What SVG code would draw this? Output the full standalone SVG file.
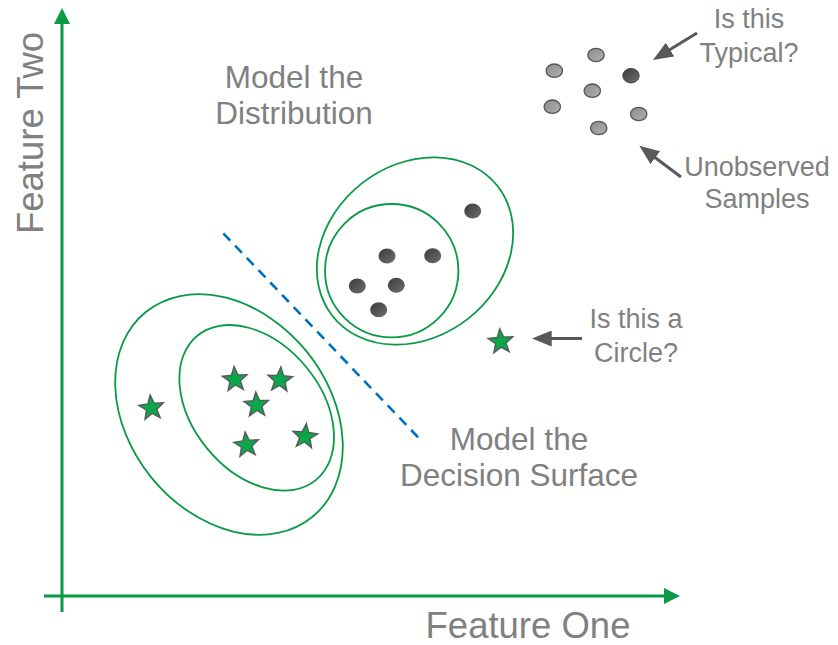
<svg xmlns="http://www.w3.org/2000/svg" width="838" height="645" viewBox="0 0 838 645">
<style>
.lbl{font-family:"Liberation Sans",Arial,sans-serif;fill:#808080;text-anchor:middle}
.big{font-size:36.5px}
.mid{font-size:31.5px}
.sm{font-size:27px}
.axis{stroke:#0a9a45;stroke-width:3;fill:none}
.contour{stroke:#0a9a45;stroke-width:1.8;fill:none}
.star{fill:#0aa64a;stroke:#5a5a5a;stroke-width:1.4;stroke-linejoin:miter}
.dark{fill:url(#dk)}
.grey{fill:url(#gy);stroke:#555;stroke-width:1.3}
.ptr{stroke:#595959;stroke-width:3;fill:none;marker-end:url(#ah)}
</style>
<defs>
<linearGradient id="dk" x1="0" y1="0" x2="1" y2="1"><stop offset="0" stop-color="#3a3a3a"/><stop offset="1" stop-color="#707070"/></linearGradient>
<linearGradient id="gy" x1="0" y1="0" x2="1" y2="1"><stop offset="0" stop-color="#8c8c8c"/><stop offset="1" stop-color="#b0b0b0"/></linearGradient>
<marker id="ah" viewBox="0 0 20 16" markerWidth="20" markerHeight="16" refX="12" refY="8" orient="auto" markerUnits="userSpaceOnUse"><path d="M0,0 L20,8 L0,16 Z" fill="#595959"/></marker>
<polygon id="st" points="0,-13 3.23,-4.45 12.36,-4.02 5.23,1.7 7.64,10.52 0,5.5 -7.64,10.52 -5.23,1.7 -12.36,-4.02 -3.23,-4.45"/>
</defs>

<g id="axes">
<line class="axis" x1="62" y1="612" x2="62" y2="22"/>
<polygon points="62,8 54,24 70,24" fill="#0a9a45"/>
<line class="axis" x1="44" y1="596" x2="666" y2="596"/>
<polygon points="680,596 664,588 664,604" fill="#0a9a45"/>
</g>

<g id="label-feature-two"><text class="lbl big" transform="translate(43,133) rotate(-90)">Feature Two</text></g>
<g id="label-feature-one"><text class="lbl big" x="528" y="638">Feature One</text></g>

<g id="label-model-distribution"><text class="lbl mid" x="294" y="88">Model the</text><text class="lbl mid" x="294" y="124">Distribution</text></g>
<g id="label-model-decision"><text class="lbl mid" x="519" y="450">Model the</text><text class="lbl mid" x="519" y="486">Decision Surface</text></g>
<g id="label-typical"><text class="lbl sm" x="749" y="28">Is this</text><text class="lbl sm" x="749" y="62">Typical?</text></g>
<g id="label-unobserved"><text class="lbl sm" x="757" y="176">Unobserved</text><text class="lbl sm" x="757" y="208">Samples</text></g>
<g id="label-circle"><text class="lbl sm" x="636" y="328">Is this a</text><text class="lbl sm" x="636" y="362">Circle?</text></g>

<g id="star-cluster">
<ellipse class="contour" cx="229" cy="414.5" rx="132" ry="100" transform="rotate(50.9 229 414.5)"/>
<ellipse class="contour" cx="256.7" cy="407.8" rx="93.4" ry="64.1" transform="rotate(50.5 256.7 407.8)"/>
<use href="#st" class="star" transform="translate(151.5,408) rotate(-6)"/>
<use href="#st" class="star" transform="translate(235,379.5) rotate(-4)"/>
<use href="#st" class="star" transform="translate(280,380) rotate(4)"/>
<use href="#st" class="star" transform="translate(256.5,405) rotate(-3)"/>
<use href="#st" class="star" transform="translate(246.5,445) rotate(-6)"/>
<use href="#st" class="star" transform="translate(305,436.5) rotate(6)"/>
</g>

<g id="circle-cluster">
<ellipse class="contour" cx="415" cy="251" rx="105" ry="86" transform="rotate(-38.2 415 251)"/>
<circle class="contour" cx="391.7" cy="270.7" r="66.7"/>
<ellipse class="dark" cx="472.7" cy="211" rx="8.5" ry="7.5"/>
<ellipse class="dark" cx="387" cy="256" rx="8.5" ry="7.5"/>
<ellipse class="dark" cx="432.7" cy="255.7" rx="8.5" ry="7.5"/>
<ellipse class="dark" cx="357.3" cy="286" rx="8.5" ry="7.5"/>
<ellipse class="dark" cx="396.3" cy="285.3" rx="8.5" ry="7.5"/>
<ellipse class="dark" cx="378.7" cy="309.7" rx="8.5" ry="7.5"/>
</g>

<g id="decision-surface"><line x1="223.3" y1="233.3" x2="422.3" y2="441.7" stroke="#0070c0" stroke-width="2.6" stroke-dasharray="10 7"/></g>

<g id="unobserved-samples">
<ellipse class="grey" cx="596" cy="55" rx="8.2" ry="6.7"/>
<ellipse class="grey" cx="554.3" cy="70.7" rx="8.2" ry="6.7"/>
<ellipse class="grey" cx="592.3" cy="90.7" rx="8.2" ry="6.7"/>
<ellipse class="grey" cx="552.3" cy="106.7" rx="8.2" ry="6.7"/>
<ellipse class="grey" cx="638.7" cy="114" rx="8.2" ry="6.7"/>
<ellipse class="grey" cx="598.7" cy="128" rx="8.2" ry="6.7"/>
</g>
<g id="typical-sample"><ellipse class="dark" cx="631" cy="75.7" rx="8.2" ry="7.2" stroke="#444" stroke-width="1"/></g>
<g id="query-star"><use href="#st" class="star" transform="translate(500.7,341.7) rotate(-4)"/></g>

<g id="connectors">
<path class="ptr" d="M697,33 L659.8,55.8"/>
<path class="ptr" d="M681,177 L645.7,150.5"/>
<path class="ptr" d="M582,338.5 L539.7,338.5"/>
</g>
</svg>
